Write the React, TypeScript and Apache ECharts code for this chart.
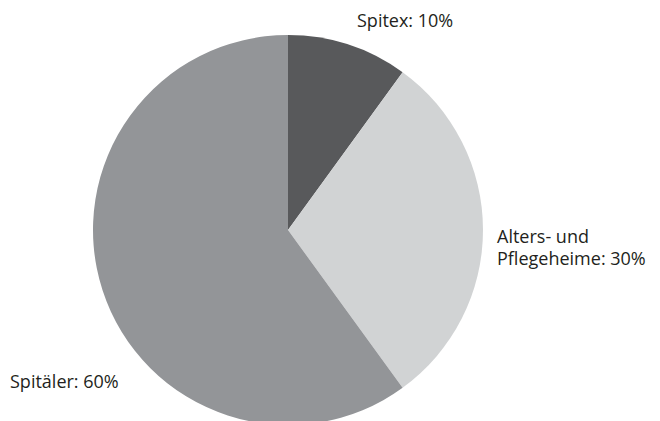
import React, { useEffect, useRef } from "react";
import * as echarts from "echarts";

const categories = ["Spitex", "Alters- und\nPflegeheime", "Spitäler"];
const values = [10, 30, 60];
const colors = ["#58595b", "#d1d3d4", "#939598"];
const labelPos: [number, number][] = [
  [357, 20],
  [497, 247],
  [10, 381],
];

export default function App() {
  const ref = useRef<HTMLDivElement>(null);
  useEffect(() => {
    if (!ref.current) return;
    const chart = echarts.init(ref.current, undefined, { renderer: "svg" });
    chart.setOption({
      animation: false,
      backgroundColor: "#ffffff",
      series: [
        {
          type: "pie",
          center: [288, 230],
          radius: 195,
          startAngle: 90,
          clockwise: true,
          silent: true,
          data: categories.map((c, i) => ({
            name: c,
            value: values[i],
            itemStyle: { color: colors[i] },
          })),
          label: {
            show: true,
            formatter: "{b}: {c}%",
            color: "#231f20",
            fontFamily: "Open Sans",
            fontSize: 18,
            lineHeight: 22,
            align: "left",
            overflow: "none",
          },
          labelLine: { show: false },
          labelLayout: (p: any) => ({
            x: labelPos[p.dataIndex][0],
            y: labelPos[p.dataIndex][1],
            align: "left",
            verticalAlign: "middle",
            hideOverlap: false,
          }),
        },
      ],
    });
    return () => chart.dispose();
  }, []);
  return (
    <div
      ref={ref}
      style={{ position: "fixed", left: 0, top: 0, width: 660, height: 421 }}
    />
  );
}
